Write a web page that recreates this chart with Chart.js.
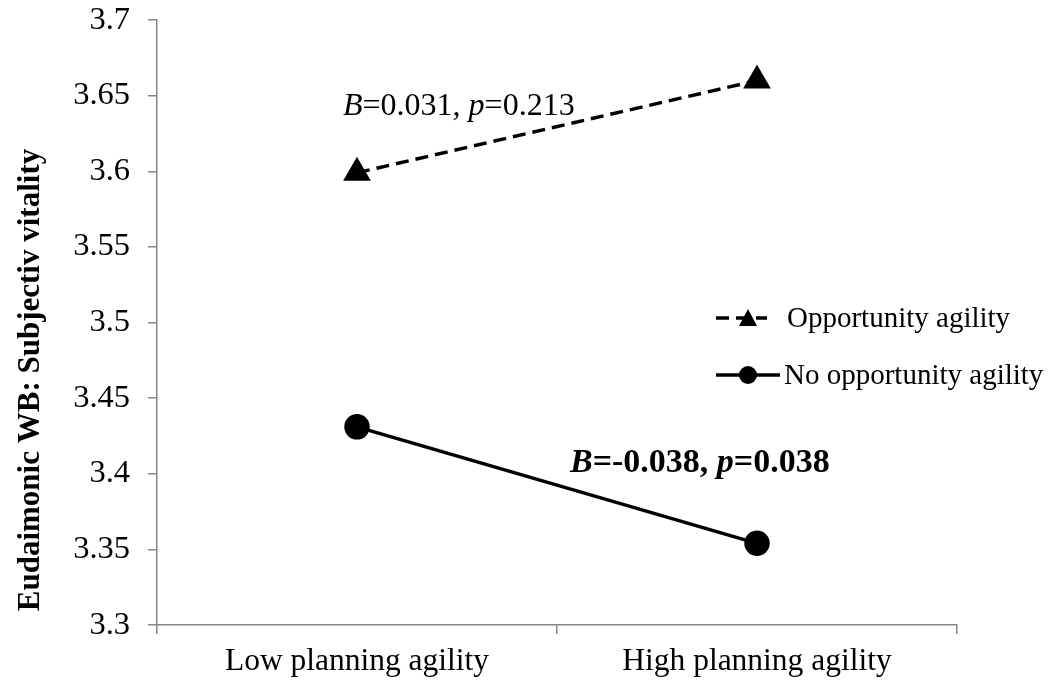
<!DOCTYPE html>
<html>
<head>
<meta charset="utf-8">
<script src="https://cdn.jsdelivr.net/npm/chart.js@4"></script>
<style>
  html, body { margin: 0; padding: 0; background: #fff; }
  #wrap { width: 1060px; height: 684px; }
</style>
</head>
<body>
<div id="wrap"><canvas id="chart" width="1060" height="684"></canvas></div>
<script>
// === Data ===
const categories = ['Low planning agility', 'High planning agility'];
const opportunity = [3.599, 3.660];
const noOpportunity = [3.431, 3.354];
const yTicks = [3.3, 3.35, 3.4, 3.45, 3.5, 3.55, 3.6, 3.65, 3.7];
const seriesNames = ['Opportunity agility', 'No opportunity agility'];
const yTitle = 'Eudaimonic WB: Subjectiv vitality';

const SERIF = '"Liberation Serif", "Times New Roman", serif';
const AXIS_GRAY = '#868686';

// draws text made of regular / italic pieces, left to right
function drawParts(ctx, parts, x, y, size, bold) {
    parts.forEach(p => {
        ctx.font = (p.i ? 'italic ' : '') + (bold ? 'bold ' : '') + size + 'px ' + SERIF;
        ctx.fillText(p.t, x, y);
        x += ctx.measureText(p.t).width;
    });
}

// legend, slope notes and y title drawn on top
const extras = {
    id: 'extras',
    afterDraw(chart) {
        const ctx = chart.ctx;
        ctx.save();
        ctx.fillStyle = '#000';
        ctx.textBaseline = 'alphabetic';
        ctx.textAlign = 'left';

        // slope annotations
        drawParts(ctx, [{t: 'B', i: true}, {t: '=0.031, '}, {t: 'p', i: true}, {t: '=0.213'}], 343, 115, 32, false);
        drawParts(ctx, [{t: 'B', i: true}, {t: '=-0.038, '}, {t: 'p', i: true}, {t: '=0.038'}], 570, 472, 34, true);

        // legend
        ctx.strokeStyle = '#000';
        ctx.lineWidth = 3.5;
        ctx.setLineDash([13, 7]);
        ctx.beginPath(); ctx.moveTo(716, 318); ctx.lineTo(767, 318); ctx.stroke();
        ctx.setLineDash([]);
        ctx.beginPath();
        ctx.moveTo(748, 309); ctx.lineTo(757, 326); ctx.lineTo(739, 326); ctx.closePath();
        ctx.fill();
        ctx.beginPath(); ctx.moveTo(716, 375); ctx.lineTo(780, 375); ctx.stroke();
        ctx.beginPath(); ctx.arc(748, 375, 9, 0, Math.PI * 2); ctx.fill();

        ctx.font = '29px ' + SERIF;
        ctx.textBaseline = 'middle';
        ctx.fillText(seriesNames[0], 787, 319);
        ctx.fillText(seriesNames[1], 784, 376);

        // y axis title
        ctx.translate(31, 380);
        ctx.rotate(-Math.PI / 2);
        ctx.textAlign = 'center';
        ctx.font = 'bold 31px ' + SERIF;
        ctx.fillText(yTitle, 0, 0);
        ctx.restore();
    }
};

const ctx = document.getElementById('chart').getContext('2d');
const chart = new Chart(ctx, {
    type: 'line',
    data: {
        labels: categories,
        datasets: [
            {
                label: seriesNames[0],
                data: opportunity,
                borderColor: '#000',
                backgroundColor: '#000',
                borderWidth: 3.5,
                borderDash: [13, 7],
                pointStyle: 'triangle',
                pointRadius: 12.5,
                pointHoverRadius: 12.5,
                fill: false
            },
            {
                label: seriesNames[1],
                data: noOpportunity,
                borderColor: '#000',
                backgroundColor: '#000',
                borderWidth: 3.5,
                pointStyle: 'circle',
                pointRadius: 11,
                pointHoverRadius: 11,
                fill: false
            }
        ]
    },
    options: {
        responsive: false,
        animation: false,
        events: [],
        layout: { padding: { left: 0, right: 103, top: 20, bottom: 0 } },
        plugins: {
            legend: { display: false },
            tooltip: { enabled: false }
        },
        scales: {
            x: {
                offset: true,
                border: { display: true, color: AXIS_GRAY, width: 1.5 },
                grid: { offset: true, drawOnChartArea: false, drawTicks: true, tickLength: 9, color: AXIS_GRAY, lineWidth: 1.5 },
                ticks: { color: '#000', font: { family: SERIF, size: 31.5 }, padding: 9, maxRotation: 0 },
                afterFit: scale => {
                    scale.height = 59;
                    scale.paddingLeft = 0;
                    scale.paddingRight = 0;
                }
            },
            y: {
                min: yTicks[0],
                max: yTicks[yTicks.length - 1],
                afterBuildTicks: scale => { scale.ticks = yTicks.map(v => ({ value: v })); },
                border: { display: true, color: AXIS_GRAY, width: 1.5 },
                grid: { drawOnChartArea: false, drawTicks: true, tickLength: 9, color: AXIS_GRAY, lineWidth: 1.5 },
                ticks: {
                    color: '#000',
                    font: { family: SERIF, size: 32.5 },
                    padding: 18,
                    callback: v => String(+(+v).toFixed(2))
                },
                afterFit: scale => {
                    scale.width = 157;
                    scale.paddingTop = 0;
                    scale.paddingBottom = 0;
                }
            }
        }
    },
    plugins: [extras]
});
</script>
</body>
</html>
